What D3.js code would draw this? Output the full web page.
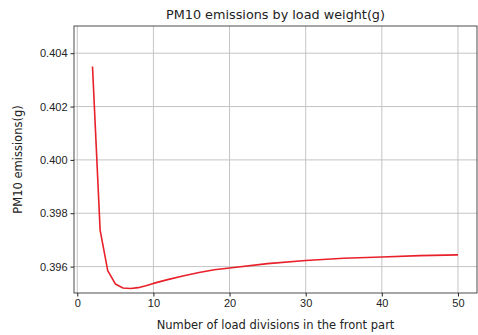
<!DOCTYPE html>
<html>
<head>
<meta charset="utf-8">
<script src="https://cdn.jsdelivr.net/npm/d3@7"></script>
<style>
  body { margin: 0; background: #fff; }
  svg { font-family: "DejaVu Sans", sans-serif; }
  .grid line { stroke: #c4c4c4; stroke-width: 1; }
  .axis text { font-size: 11px; fill: #222; }
  .axis line, .axis path { stroke: #222; }
</style>
</head>
<body>
<svg></svg>
<script>
// divisions in the front part and PM10 emissions
let divisions = [2, 3, 4, 5, 6, 7, 8, 9, 10, 12, 14, 16, 18, 20, 25, 30, 35, 40, 45, 50]
let emissions = [0.40350, 0.39737, 0.39585, 0.39535, 0.39520, 0.39518, 0.39521, 0.39528, 0.39537,
                 0.39552, 0.39566, 0.39578, 0.39588, 0.39595, 0.39611, 0.39623, 0.39631, 0.39636, 0.39641, 0.39644]
let xTicks = [0, 10, 20, 30, 40, 50]
let yTicks = [0.396, 0.398, 0.400, 0.402, 0.404]

let width = 478
let height = 335
let padLeft = 74, padRight = 477, padTop = 26, padBottom = 293

let svg = d3.select('svg').attr('width', width).attr('height', height)

let xScale = d3.scaleLinear().domain([-0.43, 52.5]).range([padLeft, padRight])
let yScale = d3.scaleLinear().domain([0.39501, 0.40502]).range([padBottom, padTop])

// grid
let grid = svg.append('g').attr('class', 'grid')
grid.selectAll('.gx').data(xTicks).enter().append('line')
    .attr('x1', d => xScale(d)).attr('x2', d => xScale(d))
    .attr('y1', padTop).attr('y2', padBottom)
grid.selectAll('.gy').data(yTicks).enter().append('line')
    .attr('x1', padLeft).attr('x2', padRight)
    .attr('y1', d => yScale(d)).attr('y2', d => yScale(d))

// line
let points = divisions.map((d, i) => [d, emissions[i]])
svg.append('path')
   .datum(points)
   .attr('fill', 'none')
   .attr('stroke', '#e8202a')
   .attr('stroke-width', 1.6)
   .attr('stroke-linejoin', 'round')
   .attr('d', d3.line().x(d => xScale(d[0])).y(d => yScale(d[1])))

// frame
svg.append('rect')
   .attr('x', padLeft).attr('y', padTop)
   .attr('width', padRight - padLeft).attr('height', padBottom - padTop)
   .attr('fill', 'none').attr('stroke', '#222').attr('stroke-width', 0.8)

let xAxis = d3.axisBottom(xScale).tickValues(xTicks).tickSize(3.5).tickPadding(3).tickFormat(d3.format('d'))
let yAxis = d3.axisLeft(yScale).tickValues(yTicks).tickSize(3.5).tickPadding(3).tickFormat(d3.format('.3f'))

svg.append('g').attr('class', 'axis')
   .attr('transform', 'translate(0,' + padBottom + ')')
   .call(xAxis)
   .call(g => g.select('.domain').remove())

svg.append('g').attr('class', 'axis')
   .attr('transform', 'translate(' + padLeft + ',0)')
   .call(yAxis)
   .call(g => g.select('.domain').remove())

svg.append('text')
   .attr('x', (padLeft + padRight) / 2).attr('y', 19)
   .attr('text-anchor', 'middle')
   .attr('font-size', 12.8).attr('fill', '#222')
   .text('PM10 emissions by load weight(g)')

svg.append('text')
   .attr('x', (padLeft + padRight) / 2).attr('y', 329)
   .attr('text-anchor', 'middle')
   .attr('font-size', 11.5).attr('fill', '#222')
   .text('Number of load divisions in the front part')

svg.append('text')
   .attr('transform', 'translate(22,' + ((padTop + padBottom) / 2) + ') rotate(-90)')
   .attr('text-anchor', 'middle')
   .attr('font-size', 11.5).attr('fill', '#222')
   .text('PM10 emissions(g)')
</script>
</body>
</html>
